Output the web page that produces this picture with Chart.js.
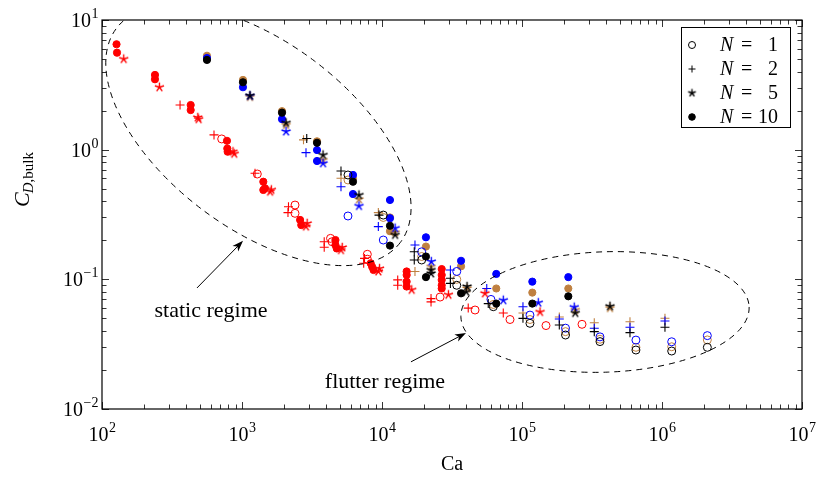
<!DOCTYPE html>
<html><head><meta charset="utf-8">
<script src="https://cdn.jsdelivr.net/npm/chart.js@4/dist/chart.umd.min.js"></script>
<style>html,body{margin:0;padding:0;background:#fff;}#wrap{width:819px;height:479px;}</style>
</head><body><div id="wrap"><canvas id="c" width="819" height="479"></canvas></div>
<script>
// ---- data: [Ca, C_D,bulk] pairs per colour family and N ----
const nValues = [1, 2, 5, 10];
const xTickExps = [2, 3, 4, 5, 6, 7];
const yTickExps = [-2, -1, 0, 1];

const redN1  = [[716,1.21],[1286,0.649],[2392,0.374],[2392,0.323],[4289,0.207],[4400,0.195],[7854,0.156],[7854,0.143],[26000,0.073],[46200,0.058],[82100,0.049],[148400,0.044],[268300,0.045]];
const redN2  = [[361,2.21],[631,1.30],[1239,0.657],[2148,0.363],[2130,0.327],[3866,0.195],[3866,0.177],[7500,0.145],[7400,0.133],[12950,0.099],[12950,0.090],[22400,0.071],[22400,0.067],[41300,0.060],[73500,0.055]];
const redN5  = [[143,5.0],[257,3.03],[483,1.77],[490,1.72],[862,0.964],[880,0.93],[1585,0.474],[1620,0.49],[2865,0.255],[2920,0.27],[5094,0.168],[5200,0.176],[9415,0.115],[9600,0.121],[16300,0.083],[29800,0.076],[54400,0.078],[134500,0.056]];
const redN10 = [[127,6.50],[128,5.60],[239,3.77],[239,3.49],[430,2.21],[430,2.02],[781,1.17],[785,1.02],[790,0.964],[1420,0.566],[1460,0.504],[1420,0.489],[2600,0.287],[2650,0.262],[4650,0.201],[4650,0.184],[4750,0.173],[8300,0.133],[8500,0.125],[8700,0.118],[15000,0.115],[15000,0.108],[15000,0.096],[15000,0.088],[26700,0.120],[26700,0.108],[26700,0.099],[26700,0.090],[26700,0.085]];

const blackN1  = [[5715,0.638],[10215,0.313],[19200,0.141],[34200,0.090],[62400,0.0615],[114000,0.0458],[204600,0.0372],[360600,0.0331],[651300,0.0285],[1173000,0.0280],[2108000,0.0299]];
const blackN2  = [[2900,1.22],[5094,0.685],[9520,0.313],[17000,0.163],[17000,0.141],[30800,0.102],[30800,0.093],[57400,0.065],[101600,0.050],[184700,0.0445],[328300,0.0395],[590600,0.0388],[1050000,0.0427]];
const blackN5  = [[1140,2.61],[2062,1.61],[3790,0.910],[6849,0.447],[12400,0.22],[22400,0.118],[22400,0.111],[40500,0.088],[40000,0.080],[240000,0.055],[425000,0.062]];
const blackN10 = [[562,4.92],[1016,3.31],[1931,1.93],[3434,1.13],[6205,0.566],[11400,0.259],[11400,0.182],[20600,0.150],[20600,0.104],[36700,0.078],[65500,0.065],[118500,0.065],[214200,0.074]];

const blueN1  = [[5715,0.308],[10215,0.201],[19200,0.163],[34200,0.115],[60000,0.070],[114000,0.053],[204600,0.042],[360600,0.036],[651300,0.034],[1173000,0.033],[2108000,0.0368]];
const blueN2  = [[2865,0.948],[5094,0.518],[9415,0.255],[17200,0.184],[30800,0.118],[56000,0.085],[101600,0.0615],[184700,0.0495],[328300,0.0419],[590600,0.0427],[1050000,0.0477]];
const blueN5  = [[1140,2.60],[2062,1.38],[3790,0.785],[6849,0.368],[12400,0.248],[22500,0.137],[73500,0.069],[130700,0.066],[236000,0.061]];
const blueN10 = [[562,5.09],[1016,3.03],[1931,1.72],[3434,0.994],[3434,0.818],[6205,0.638],[6205,0.455],[11400,0.409],[11400,0.296],[20600,0.211],[36700,0.139],[65500,0.110],[118500,0.096],[214200,0.104]];

const brownN1  = [[5715,0.584],[10215,0.30],[19200,0.15],[34200,0.10],[62400,0.064],[114000,0.049],[204600,0.0395],[360600,0.0345],[651300,0.0299],[1173000,0.0302],[2108000,0.0341]];
const brownN2  = [[2750,1.19],[5094,0.602],[9415,0.327],[17200,0.115],[101600,0.055],[184700,0.0512],[328300,0.0463],[590600,0.0471],[1050000,0.0501]];
const brownN5  = [[1140,2.55],[2062,1.55],[3790,0.832],[6849,0.414],[12400,0.23],[22400,0.125],[40500,0.085],[240000,0.058],[425000,0.060]];
const brownN10 = [[562,5.30],[1016,3.45],[1931,1.98],[3434,1.16],[6205,0.60],[11400,0.30],[11400,0.235],[20600,0.179],[36700,0.126],[65500,0.085],[118500,0.079],[214200,0.085]];

// ---- styles ----
const COL = {black:'#000000', red:'#ff0000', blue:'#0000ff', brown:'#bf8040'};
const SERIF = '"Liberation Serif","DejaVu Serif",serif';

function starImg(color, r){
  const s = Math.ceil(2*r+3), c = document.createElement('canvas');
  c.width = s; c.height = s;
  const g = c.getContext('2d');
  g.strokeStyle = color; g.lineWidth = 1.35; g.beginPath();
  for (let k=0;k<5;k++){
    const a = -Math.PI/2 + k*2*Math.PI/5;
    g.moveTo(s/2, s/2); g.lineTo(s/2 + r*Math.cos(a), s/2 + r*Math.sin(a));
  }
  g.stroke();
  return c;
}

function makeSet(label, arr, color, kind){
  const base = {label, data: arr.map(p=>({x:p[0], y:p[1]})), showLine:false, borderColor:color};
  if (kind==='N1')  return Object.assign(base,{pointStyle:'circle', pointRadius:4, backgroundColor:'rgba(0,0,0,0)', pointBorderWidth:1});
  if (kind==='N2')  return Object.assign(base,{pointStyle:'cross', pointRadius:4.5, backgroundColor:color, pointBorderWidth:1.1});
  if (kind==='N5')  return Object.assign(base,{pointStyle:starImg(color,4.8), pointRadius:4.5, backgroundColor:color, pointBorderWidth:1});
  return Object.assign(base,{pointStyle:'circle', pointRadius:3.6, backgroundColor:color, pointBorderWidth:1});
}

const datasets = [
  makeSet('black N10', blackN10, COL.black,'N10'), makeSet('black N5', blackN5, COL.black,'N5'),
  makeSet('black N2', blackN2, COL.black,'N2'), makeSet('black N1', blackN1, COL.black,'N1'),
  makeSet('red N10', redN10, COL.red,'N10'), makeSet('red N5', redN5, COL.red,'N5'),
  makeSet('red N2', redN2, COL.red,'N2'), makeSet('red N1', redN1, COL.red,'N1'),
  makeSet('blue N10', blueN10, COL.blue,'N10'), makeSet('blue N5', blueN5, COL.blue,'N5'),
  makeSet('blue N2', blueN2, COL.blue,'N2'), makeSet('blue N1', blueN1, COL.blue,'N1'),
  makeSet('brown N10', brownN10, COL.brown,'N10'), makeSet('brown N5', brownN5, COL.brown,'N5'),
  makeSet('brown N2', brownN2, COL.brown,'N2'), makeSet('brown N1', brownN1, COL.brown,'N1')
];

function isMajor(v){ const l=Math.log10(v); return Math.abs(l-Math.round(l))<1e-6; }
function expText(e){ return e<0 ? '\u2212'+Math.abs(e) : String(e); }
function logTicks(min,max){
  const out=[];
  for (let e=Math.floor(Math.log10(min)); e<=Math.ceil(Math.log10(max)); e++)
    for (let k=1;k<10;k++){ const v=parseFloat((k*Math.pow(10,e)).toPrecision(6)); if (v>=min*0.999 && v<=max*1.001) out.push({value:v}); }
  return out;
}

// ---- annotation geometry (data coords, sizes in decades) ----
const staticEllipse  = {ca:1310, cd:1.29, a:1.27, b:0.665, rot:37};
const flutterEllipse = {ca:391700, cd:0.056, a:1.03, b:0.43, rot:-2};
const staticArrow  = {from:[477,0.0858], to:[1017,0.198]};
const flutterArrow = {from:[16100,0.0231], to:[39800,0.0386]};
const staticText  = {ca:601, cd:0.057, text:'static regime'};
const flutterText = {ca:10500, cd:0.0162, text:'flutter regime'};

const BASEF = '20px '+SERIF, EXPF = '14px '+SERIF;
function drawPow(ctx, e, xpos, ybase, align){
  ctx.font=BASEF; const wb=ctx.measureText('10').width;
  ctx.font=EXPF; const we=ctx.measureText(expText(e)).width;
  let x0 = align==='right' ? xpos-wb-we : xpos-(wb+we)/2;
  ctx.textAlign='left'; ctx.textBaseline='alphabetic';
  ctx.font=BASEF; ctx.fillText('10', x0, ybase);
  ctx.font=EXPF; ctx.fillText(expText(e), x0+wb+0.5, ybase-9);
}

const annot = {
  id:'annot',
  afterDatasetsDraw(chart){
    const {ctx, chartArea:ca, scales:{x,y}} = chart;
    const dec = x.getPixelForValue(1000) - x.getPixelForValue(100);
    ctx.save();
    // inward ticks
    ctx.strokeStyle='#000'; ctx.lineWidth=0.8;
    ctx.beginPath();
    x.ticks.forEach(t=>{ const px=Math.round(x.getPixelForValue(t.value))+0.5; const L=isMajor(t.value)?7:4.5;
      ctx.moveTo(px,ca.bottom); ctx.lineTo(px,ca.bottom-L); ctx.moveTo(px,ca.top); ctx.lineTo(px,ca.top+L); });
    y.ticks.forEach(t=>{ const py=Math.round(y.getPixelForValue(t.value))+0.5; const L=isMajor(t.value)?7:4.5;
      ctx.moveTo(ca.left,py); ctx.lineTo(ca.left+L,py); ctx.moveTo(ca.right,py); ctx.lineTo(ca.right-L,py); });
    ctx.stroke();
    // tick labels 10^e at the major ticks of each scale
    ctx.fillStyle='#000';
    x.ticks.filter(t=>isMajor(t.value)).forEach(t=>{
      drawPow(ctx, Math.round(Math.log10(t.value)), x.getPixelForValue(t.value), ca.bottom+32, 'center');
    });
    y.ticks.filter(t=>isMajor(t.value)).forEach(t=>{
      drawPow(ctx, Math.round(Math.log10(t.value)), ca.left-4, y.getPixelForValue(t.value)+7, 'right');
    });
    // ellipses
    ctx.save();
    ctx.beginPath(); ctx.rect(ca.left,ca.top,ca.right-ca.left,ca.bottom-ca.top); ctx.clip();
    ctx.setLineDash([6,5]); ctx.lineWidth=1; ctx.strokeStyle='#000';
    [staticEllipse, flutterEllipse].forEach(e=>{
      ctx.beginPath();
      ctx.ellipse(x.getPixelForValue(e.ca), y.getPixelForValue(e.cd), e.a*dec, e.b*dec, e.rot*Math.PI/180, 0, 2*Math.PI);
      ctx.stroke();
    });
    ctx.setLineDash([]);
    // arrows
    [staticArrow, flutterArrow].forEach(a=>{
      const x0=x.getPixelForValue(a.from[0]), y0=y.getPixelForValue(a.from[1]);
      const x1=x.getPixelForValue(a.to[0]), y1=y.getPixelForValue(a.to[1]);
      const ang=Math.atan2(y1-y0,x1-x0);
      ctx.beginPath(); ctx.moveTo(x0,y0); ctx.lineTo(x1-6*Math.cos(ang), y1-6*Math.sin(ang)); ctx.lineWidth=1; ctx.stroke();
      ctx.beginPath();
      ctx.moveTo(x1,y1);
      ctx.lineTo(x1-11*Math.cos(ang)+4*Math.sin(ang), y1-11*Math.sin(ang)-4*Math.cos(ang));
      ctx.lineTo(x1-8*Math.cos(ang), y1-8*Math.sin(ang));
      ctx.lineTo(x1-11*Math.cos(ang)-4*Math.sin(ang), y1-11*Math.sin(ang)+4*Math.cos(ang));
      ctx.closePath(); ctx.fillStyle='#000'; ctx.fill();
    });
    // annotation texts
    ctx.font='22px '+SERIF; ctx.fillStyle='#000'; ctx.textAlign='center'; ctx.textBaseline='middle';
    [staticText, flutterText].forEach(t=> ctx.fillText(t.text, x.getPixelForValue(t.ca), y.getPixelForValue(t.cd)));
    ctx.restore();
    ctx.restore();
  },
  afterDraw(chart){
    const {ctx, chartArea:ca} = chart;
    ctx.save();
    // frame
    ctx.strokeStyle='#000'; ctx.lineWidth=1.2;
    ctx.strokeRect(ca.left, ca.top, ca.right-ca.left, ca.bottom-ca.top);
    // legend
    const bx=ca.right-121, by=ca.top+7, bw=109, bh=100;
    ctx.fillStyle='#fff'; ctx.fillRect(bx,by,bw,bh);
    ctx.lineWidth=1; ctx.strokeRect(bx+0.5,by+0.5,bw,bh);
    const kinds=['N1','N2','N5','N10'];
    nValues.forEach((n,i)=>{
      const ry=by+18+i*24;
      const ds=makeSet('', [], '#000', kinds[i]);
      const style = kinds[i]==='N5' ? starImg('#000',4) : ds.pointStyle;
      ctx.strokeStyle='#000'; ctx.fillStyle = ds.backgroundColor; ctx.lineWidth=1;
      Chart.helpers.drawPoint(ctx,{pointStyle:style, radius:kinds[i]==='N10'?3.3:3.5, borderWidth:1, rotation:0}, bx+11, ry);
      ctx.fillStyle='#000'; ctx.textBaseline='middle';
      ctx.font='italic 20px '+SERIF; ctx.textAlign='left'; ctx.fillText('N', bx+39, ry+1);
      ctx.font='20px '+SERIF; ctx.fillText('=', bx+60, ry+1);
      ctx.textAlign='right'; ctx.fillText(String(n), bx+97, ry+1);
    });
    // y-axis title C_{D,bulk}
    ctx.translate(23, ca.top+160); ctx.rotate(-Math.PI/2);
    ctx.fillStyle='#000'; ctx.textBaseline='alphabetic';
    const f1='italic 22px '+SERIF, f2='italic 15px '+SERIF, f3='15px '+SERIF;
    ctx.font=f1; const wC=ctx.measureText('C').width;
    ctx.font=f2; const wD=ctx.measureText('D').width;
    ctx.font=f3; const wB=ctx.measureText(',bulk').width;
    let sx=-(wC+wD+wB)/2+1;
    ctx.textAlign='left';
    ctx.font=f1; ctx.fillText('C', sx, 6); sx+=wC-1;
    ctx.font=f2; ctx.fillText('D', sx, 10); sx+=wD;
    ctx.font=f3; ctx.fillText(',bulk', sx, 10);
    ctx.restore();
  }
};

new Chart(document.getElementById('c'), {
  type:'scatter',
  data:{datasets},
  options:{
    responsive:false, animation:false, devicePixelRatio:1, events:[],
    layout:{padding:{top:20, right:17, left:0, bottom:0}},
    plugins:{legend:{display:false}, tooltip:{enabled:false}},
    scales:{
      x:{type:'logarithmic', min:100, max:1e7,
        afterBuildTicks:s=>{ s.ticks=logTicks(s.min,s.max); },
        afterFit:s=>{ s.height=70; s.paddingLeft=0; s.paddingRight=0; },
        grid:{display:false, drawTicks:false}, border:{display:false},
        ticks:{display:false},
        title:{display:true, text:'Ca', color:'#000', font:{family:SERIF, size:20}, padding:{top:0,bottom:2}}
      },
      y:{type:'logarithmic', min:0.01, max:10,
        afterBuildTicks:s=>{ s.ticks=logTicks(s.min,s.max); },
        afterFit:s=>{ s.width=102; s.paddingTop=0; s.paddingBottom=0; },
        grid:{display:false, drawTicks:false}, border:{display:false},
        ticks:{display:false}
      }
    }
  },
  plugins:[annot]
});
</script>
</body></html>
